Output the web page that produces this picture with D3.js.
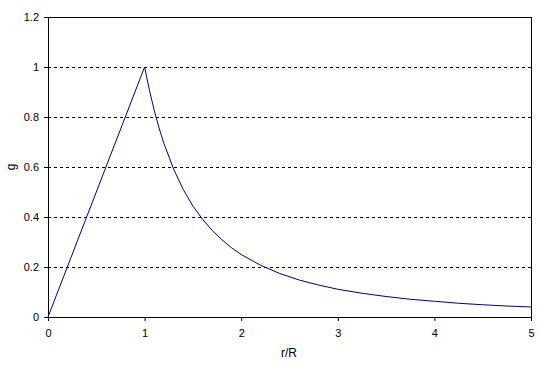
<!DOCTYPE html>
<html>
<head>
<meta charset="utf-8">
<script src="https://cdn.jsdelivr.net/npm/d3@7"></script>
<style>
  body { margin: 0; background: #fff; }
  svg text { font-family: "Liberation Sans", Arial, sans-serif; font-size: 11px; fill: #000; }
</style>
</head>
<body>
<svg id="chart" width="540" height="368"></svg>
<script>
// r/R values and g
var rValues = [0, 1, 1.05, 1.1, 1.15, 1.2, 1.3, 1.4, 1.5, 1.6, 1.7, 1.8, 1.9, 2.0, 2.2, 2.4, 2.6, 2.8, 3.0, 3.25, 3.5, 3.75, 4.0, 4.25, 4.5, 4.75, 5.0];
var gValues = [0, 1, 0.907, 0.826, 0.756, 0.694, 0.592, 0.51, 0.444, 0.391, 0.346, 0.309, 0.277, 0.25, 0.207, 0.174, 0.148, 0.128, 0.111, 0.095, 0.082, 0.071, 0.063, 0.055, 0.049, 0.044, 0.04];
var xTicks = [0, 1, 2, 3, 4, 5];
var yTicks = [0, 0.2, 0.4, 0.6, 0.8, 1, 1.2];

var margin = { top: 17, right: 9, bottom: 51, left: 48 },
    width = 540 - margin.left - margin.right,
    height = 368 - margin.top - margin.bottom;

var svg = d3.select('#chart');
var g = svg.append('g').attr('transform', 'translate(' + margin.left + ',' + margin.top + ')');

var x = d3.scaleLinear().domain([0, 5]).range([0, width]);
var y = d3.scaleLinear().domain([0, 1.2]).range([height, 0]);

// dashed grid
g.selectAll('.grid')
    .data(yTicks.filter(function (d) { return d > 0 && d < 1.2; }))
    .enter()
    .append('line')
    .attr('x1', 0)
    .attr('x2', width)
    .attr('y1', function (d) { return Math.round(y(d)) + 0.5; })
    .attr('y2', function (d) { return Math.round(y(d)) + 0.5; })
    .attr('stroke', '#000')
    .attr('stroke-dasharray', '3,3');

// frame top / right
g.append('rect')
    .attr('x', 0.5).attr('y', 0.5)
    .attr('width', width).attr('height', height)
    .attr('fill', 'none').attr('stroke', '#000');

var xAxis = g.append('g')
    .attr('transform', 'translate(0,' + height + ')')
    .call(d3.axisBottom(x).tickValues(xTicks).tickSize(4).tickPadding(8).tickFormat(d3.format('d')));

var yAxis = g.append('g')
    .call(d3.axisLeft(y).tickValues(yTicks).tickSize(4).tickPadding(5).tickFormat(function (d) { return String(d); }));

[xAxis, yAxis].forEach(function (a) {
    a.select('.domain').attr('stroke', '#000');
    a.selectAll('line').attr('stroke', '#000');
    a.selectAll('text').attr('font-size', 11).attr('font-family', '"Liberation Sans", Arial, sans-serif');
});

var line = d3.line()
    .x(function (d, i) { return x(rValues[i]); })
    .y(function (d) { return y(d); });

g.append('path')
    .datum(gValues)
    .attr('d', line)
    .attr('fill', 'none')
    .attr('stroke', '#000080')
    .attr('stroke-width', 1);

svg.append('text')
    .attr('transform', 'translate(15,167) rotate(-90)')
    .attr('text-anchor', 'middle')
    .style('font-size', '12px')
    .text('g');

svg.append('text')
    .attr('x', 289)
    .attr('y', 357)
    .attr('text-anchor', 'middle')
    .style('font-size', '12px')
    .text('r/R');
</script>
</body>
</html>
